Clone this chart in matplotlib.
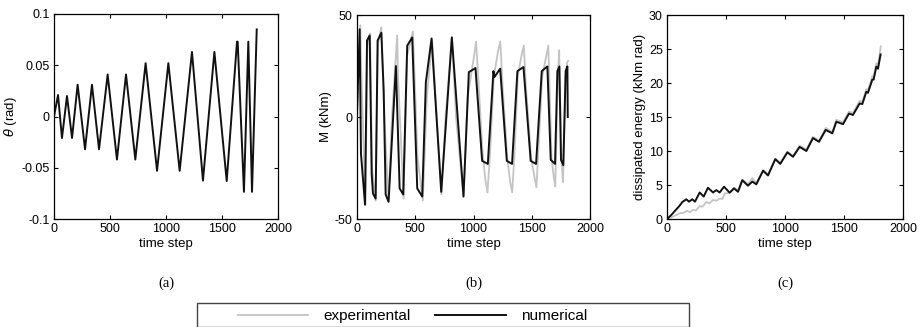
import matplotlib.pyplot as plt
from matplotlib.patches import Rectangle

plt.rcParams['font.family'] = ['Liberation Sans', 'DejaVu Sans']
plt.rcParams['axes.unicode_minus'] = False

# (a) rotation theta (rad) vs time step
t_theta = [0, 36, 71, 116, 161, 211, 277, 339, 402, 479, 562, 643, 726, 818, 920,
           1021, 1122, 1232, 1330, 1432, 1542, 1634, 1640, 1696, 1735, 1768, 1810]
theta = [0, 0.021, -0.021, 0.02, -0.021, 0.031, -0.032, 0.031, -0.032, 0.041, -0.042,
         0.041, -0.042, 0.052, -0.053, 0.052, -0.053, 0.063, -0.0625, 0.063, -0.063,
         0.073, 0.073, -0.0735, 0.073, -0.0735, 0.085]

# (b) moment M (kNm) vs time step
t_m_exp = [0, 28, 38, 72, 88, 112, 130, 160, 180, 208, 235, 270, 300, 345, 352, 400,
           430, 480, 520, 565, 600, 645, 725, 760, 815, 850, 915, 950, 1000, 1022, 1040,
           1075, 1100, 1120, 1140, 1175, 1210, 1230, 1250, 1290, 1315, 1332, 1350, 1380,
           1415, 1432, 1450, 1495, 1525, 1540, 1558, 1590, 1625, 1642, 1655, 1670, 1690,
           1702, 1712, 1725, 1735, 1745, 1755, 1768, 1778, 1790, 1805, 1812]
m_exp = [0, 45, 20, -43, 35, 41, -25, -41, 36, 44, 0, -41, 0, 40, 20, -40,
         30, 42, -20, -41, 10, 38, -38, 0, 39, 0, -39, 10, 28, 37, 20,
         -15, -30, -37, -20, 20, 32, 37, 15, -20, -32, -37, -20, 20,
         31, 35, 15, -20, -30, -34.5, -15, 20, 30, 35, 10, -20, -30,
         -34, -10, 20, 32.7, 5, -20, -32, -10, 20, 27, 27.5]
t_m_num = [0, 23, 34, 69, 86, 109, 126, 137, 160, 177, 209, 229, 246, 271, 334, 366,
           397, 431, 474, 517, 560, 591, 640, 723, 814, 914, 960, 1017, 1074, 1123,
           1171, 1180, 1229, 1286, 1331, 1377, 1429, 1491, 1537, 1586, 1634, 1663,
           1700, 1720, 1737, 1751, 1771, 1791, 1806, 1809]
m_num = [2, 43, -18, -43, 37.5, 40, -28, -37.5, -40, 37.5, 41.3, 13, -38, -41.6, 25,
         -35, -38, 35, 39, -35, -39, 17, 38.5, -36.7, 39, -39, 22, 24, -21.5, -23,
         22.5, 19.6, 23.7, -21.5, -23, 22.5, 24.5, -21.5, -23, 22.5, 24.8, -21,
         -23, 22.5, 24.8, -21, -23.6, 22.5, 24.8, 0]

# (c) dissipated energy (kNm rad) vs time step
t_e_exp = [0, 50, 107, 140, 170, 195, 220, 245, 277, 300, 333, 360, 390, 420, 446,
           470, 489, 530, 570, 600, 640, 686, 722, 757, 816, 856, 918, 960, 1020, 1068,
           1124, 1181, 1237, 1288, 1345, 1401, 1435, 1492, 1542, 1576, 1633, 1655, 1689,
           1703, 1740, 1751, 1774, 1788, 1812]
e_exp = [0, 0.35, 0.83, 0.9, 1.2, 1.0, 1.35, 1.25, 1.9, 1.8, 2.5, 2.3, 2.8, 2.7, 3.0,
         2.95, 3.75, 3.85, 4.6, 4.2, 5.8, 5.1, 6.0, 5.3, 7.2, 6.6, 8.9, 8.3, 9.9, 9.3,
         10.8, 10.2, 12.1, 11.5, 13.4, 12.8, 14.6, 14.2, 15.8, 15.6, 17.4, 17.2, 19.1,
         18.9, 21.0, 20.9, 22.9, 22.6, 25.4]
t_e_num = [0, 37, 107, 130, 164, 186, 215, 237, 277, 311, 347, 390, 418, 446, 483,
           531, 568, 602, 638, 686, 723, 757, 814, 856, 918, 960, 1020, 1068, 1124,
           1181, 1237, 1288, 1345, 1401, 1435, 1492, 1542, 1576, 1633, 1655, 1689,
           1703, 1740, 1751, 1774, 1788, 1810]
e_num = [0, 0.6, 1.96, 2.5, 2.9, 2.55, 2.9, 2.55, 3.9, 3.3, 4.6, 3.9, 4.25, 3.9, 4.75,
         3.87, 4.5, 4.0, 5.7, 4.9, 5.5, 5.1, 7.1, 6.4, 8.8, 8.1, 9.8, 9.15, 10.6,
         10.0, 11.9, 11.35, 13.1, 12.6, 14.3, 13.95, 15.5, 15.3, 17.0, 16.9, 18.7,
         18.55, 20.5, 20.5, 22.4, 22.1, 24.2]

x_ticks = [0, 500, 1000, 1500, 2000]
panel_labels = ['(a)', '(b)', '(c)']

W, H = 923, 327
fig = plt.figure(figsize=(W / 100, H / 100), dpi=100)

def box(x0, x1, y0, y1):
    return [x0 / W, 1 - y1 / H, (x1 - x0) / W, (y1 - y0) / H]

ax_a = fig.add_axes(box(54, 278, 14, 219))
ax_b = fig.add_axes(box(357, 590, 15, 219))
ax_c = fig.add_axes(box(667, 903, 15, 219))

gray = '#c4c4c4'
black = '#111111'

ax_a.plot(t_theta, theta, color=black, lw=1.4)
ax_a.set_ylim(-0.1, 0.1)
ax_a.set_yticks([-0.1, -0.05, 0, 0.05, 0.1])
ax_a.set_yticklabels(['-0.1', '-0.05', '0', '0.05', '0.1'])
ax_a.set_ylabel(r'$\theta$ (rad)', fontsize=9.5, labelpad=2)

l_exp, = ax_b.plot(t_m_exp, m_exp, color=gray, lw=1.3)
l_num, = ax_b.plot(t_m_num, m_num, color=black, lw=1.4)
ax_b.set_ylim(-50, 50)
ax_b.set_yticks([-50, 0, 50])
ax_b.set_ylabel('M (kNm)', fontsize=9.5, labelpad=2)

ax_c.plot(t_e_exp, e_exp, color=gray, lw=1.3)
ax_c.plot(t_e_num, e_num, color=black, lw=1.4)
ax_c.set_ylim(0, 30)
ax_c.set_yticks([0, 5, 10, 15, 20, 25, 30])
ax_c.set_ylabel('dissipated energy (kNm rad)', fontsize=9.5, labelpad=2)

for ax, lab in zip([ax_a, ax_b, ax_c], panel_labels):
    ax.set_xlim(0, 2000)
    ax.set_xticks(x_ticks)
    ax.set_xlabel('time step', fontsize=9.5, labelpad=2)
    ax.tick_params(direction='in', length=3, width=0.8, top=True, right=True,
                   labelsize=9, pad=3)
    for s in ax.spines.values():
        s.set_linewidth(0.9)
    pos = ax.get_position()
    fig.text(pos.x0 + pos.width / 2, 1 - 283 / H, lab, ha='center', va='center',
             fontsize=10.5, family=['Liberation Serif', 'DejaVu Serif'])

fig.add_artist(Rectangle((197 / W, 0), (689 - 197) / W, 1 - 303 / H,
                         transform=fig.transFigure, fill=False, lw=1.0,
                         edgecolor='#444444'))
fig.legend([l_exp, l_num], ['experimental', 'numerical'], ncol=2, frameon=False,
           loc='center left', bbox_to_anchor=(238 / W, 1 - 316 / H),
           borderpad=0, borderaxespad=0, handlelength=4.6, handletextpad=1.0,
           columnspacing=1.6, fontsize=11)

fig.savefig('out.png', dpi=100)
